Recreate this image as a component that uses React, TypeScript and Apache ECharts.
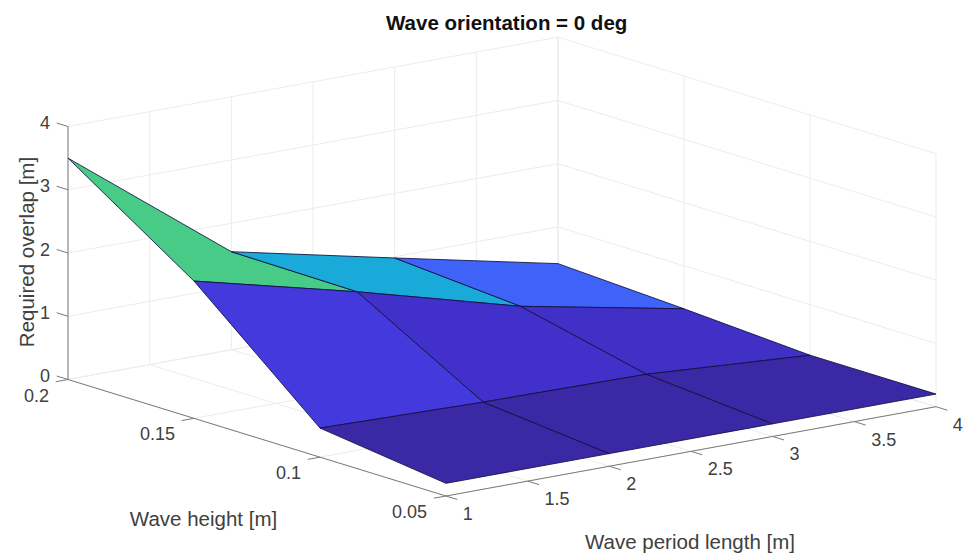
import React, { useEffect, useRef } from "react";
import * as echarts from "echarts";

const WIDTH = 965;
const HEIGHT = 553;
const FONT = "'Liberation Sans', Arial, sans-serif";

// Surface data: rows run from the back (0.2 m) to the front (0.05 m)
const periods = [1, 2, 3, 4];
const heights = [0.2, 0.15, 0.1, 0.05];
const overlap = [
  [3.5, 1.55, 0.98, 0.42],
  [2.17, 1.53, 0.83, 0.32],
  [0.46, 0.4, 0.37, 0.2],
  [0.2, 0.2, 0.2, 0.2],
];

// Tick values and labels
const xTicks = [1, 1.5, 2, 2.5, 3, 3.5, 4];
const xTickLabels = ["1", "1.5", "2", "2.5", "3", "3.5", "4"];
const yTicks = [0.2, 0.15, 0.1, 0.05];
const yTickLabels = ["0.2", "0.15", "0.1", "0.05"];
const zTicks = [0, 1, 2, 3, 4];
const zTickLabels = ["0", "1", "2", "3", "4"];

// Colour map: overlap value -> colour
const colourStops: [number, string][] = [
  [0.2, "#3B28A4"],
  [0.37, "#4030C6"],
  [0.4, "#4131CA"],
  [0.46, "#4439DC"],
  [0.83, "#3F63F9"],
  [1.53, "#19AAD9"],
  [2.17, "#47CB86"],
];

// Orthographic projection of the box
const X_RANGE = [1, 4];
const Y_RANGE = [0.2, 0.05];
const Z_RANGE = [0, 4];
const ORIGIN = [68, 379.5];
const U_VEC = [490, -89.3];
const V_VEC = [378, 116.5];
const W_VEC = [0, -253];

function project(x: number, y: number, z: number): [number, number] {
  const u = (x - X_RANGE[0]) / (X_RANGE[1] - X_RANGE[0]);
  const v = (y - Y_RANGE[0]) / (Y_RANGE[1] - Y_RANGE[0]);
  const w = (z - Z_RANGE[0]) / (Z_RANGE[1] - Z_RANGE[0]);
  return [
    ORIGIN[0] + u * U_VEC[0] + v * V_VEC[0] + w * W_VEC[0],
    ORIGIN[1] + u * U_VEC[1] + v * V_VEC[1] + w * W_VEC[1] + 0,
  ];
}

function hexToRgb(h: string) {
  return [1, 3, 5].map((i) => parseInt(h.slice(i, i + 2), 16));
}

function colourFor(z: number) {
  for (let i = 0; i < colourStops.length - 1; i++) {
    const [a, ca] = colourStops[i];
    const [b, cb] = colourStops[i + 1];
    if (z <= b) {
      const t = Math.max(0, (z - a) / (b - a));
      const A = hexToRgb(ca);
      const B = hexToRgb(cb);
      return `rgb(${A.map((c, k) => Math.round(c + (B[k] - c) * t)).join(",")})`;
    }
  }
  return colourStops[colourStops.length - 1][1];
}

type P3 = [number, number, number];
const [xMin, xMax] = X_RANGE;
const [yBack, yFront] = Y_RANGE;
const [zMin, zMax] = Z_RANGE;

const gridLines: [P3, P3][] = [
  ...xTicks.flatMap((x): [P3, P3][] => [
    [[x, yBack, zMin], [x, yBack, zMax]],
    [[x, yBack, zMin], [x, yFront, zMin]],
  ]),
  ...yTicks.flatMap((y): [P3, P3][] => [
    [[xMax, y, zMin], [xMax, y, zMax]],
    [[xMin, y, zMin], [xMax, y, zMin]],
  ]),
  ...zTicks.flatMap((z): [P3, P3][] => [
    [[xMin, yBack, z], [xMax, yBack, z]],
    [[xMax, yBack, z], [xMax, yFront, z]],
  ]),
];

const axisLines: [P3, P3][] = [
  [[xMin, yBack, zMin], [xMin, yBack, zMax]],
  [[xMin, yBack, zMin], [xMin, yFront, zMin]],
  [[xMin, yFront, zMin], [xMax, yFront, zMin]],
  ...zTicks.map((z): [P3, P3] => [[xMin, yBack, z], [xMin, yBack + 0.0045, z]]),
  ...yTicks.map((y): [P3, P3] => [[xMin, y, zMin], [xMin - 0.075, y, zMin]]),
  ...xTicks.map((x): [P3, P3] => [[x, yFront, zMin], [x, yFront - 0.0045, zMin]]),
];

const surfaceCells: number[][] = [];
for (let r = 0; r < heights.length - 1; r++) {
  for (let c = 0; c < periods.length - 1; c++) surfaceCells.push([c, r]);
}

const tickTexts = [
  ...zTicks.map((z, i) => {
    const p = project(xMin, yBack, z);
    return { text: zTickLabels[i], x: p[0] - 18, y: p[1] - 3.5, align: "right" };
  }),
  ...yTicks.map((y, i) => {
    const p = project(xMin, y, zMin);
    return { text: yTickLabels[i], x: p[0] - 19, y: p[1] + 16, align: "right" };
  }),
  ...xTicks.map((x, i) => {
    const p = project(x, yFront, zMin);
    return { text: xTickLabels[i], x: p[0] + 16.8, y: p[1] + 18, align: "left" };
  }),
];

function lineSeries(lines: [P3, P3][], stroke: string, width: number) {
  return {
    type: "custom",
    coordinateSystem: "cartesian2d",
    silent: true,
    clip: false,
    data: lines.map((_, i) => [i, i]),
    encode: { x: 0, y: 1 },
    renderItem: (params: any, api: any) => {
      const [a, b] = lines[params.dataIndex];
      const p1 = api.coord(project(a[0], a[1], a[2]));
      const p2 = api.coord(project(b[0], b[1], b[2]));
      return {
        type: "line",
        shape: { x1: p1[0], y1: p1[1], x2: p2[0], y2: p2[1] },
        style: { stroke, lineWidth: width, fill: "none" },
      };
    },
  };
}

export default function App() {
  const ref = useRef<HTMLDivElement>(null);
  useEffect(() => {
    document.body.style.margin = "0";
    const chart = echarts.init(ref.current!, undefined, { renderer: "svg" });
    chart.setOption({
      animation: false,
      backgroundColor: "#ffffff",
      title: {
        text: "Wave orientation = 0 deg",
        left: 381,
        top: 7,
        textStyle: { fontFamily: FONT, fontSize: 20.5, fontWeight: "bold", color: "#111111" },
      },
      grid: { left: 0, right: 0, top: 0, bottom: 0 },
      xAxis: { type: "value", min: 0, max: WIDTH, show: false },
      yAxis: { type: "value", min: 0, max: HEIGHT, inverse: true, show: false },
      series: [
        lineSeries(gridLines, "#ECECEC", 1),
        lineSeries(axisLines, "#7A7A7A", 1),
        {
          type: "custom",
          coordinateSystem: "cartesian2d",
          silent: true,
          clip: false,
          data: surfaceCells,
          encode: { x: 0, y: 1 },
          renderItem: (_params: any, api: any) => {
            const c = api.value(0);
            const r = api.value(1);
            const node = (ci: number, ri: number) =>
              api.coord(project(periods[ci], heights[ri], overlap[ri][ci]));
            return {
              type: "polygon",
              shape: { points: [node(c, r), node(c + 1, r), node(c + 1, r + 1), node(c, r + 1)] },
              style: {
                fill: colourFor(overlap[r + 1][c]),
                stroke: "rgba(15,15,60,0.85)",
                lineWidth: 1,
                lineJoin: "round",
              },
            };
          },
        },
        {
          type: "custom",
          coordinateSystem: "cartesian2d",
          silent: true,
          clip: false,
          data: tickTexts.map((_, i) => [i, i]),
          encode: { x: 0, y: 1 },
          renderItem: (params: any, api: any) => {
            const t = tickTexts[params.dataIndex];
            const p = api.coord([t.x, t.y]);
            return {
              type: "text",
              style: {
                text: t.text,
                x: p[0],
                y: p[1],
                align: t.align,
                verticalAlign: "middle",
                fontFamily: FONT,
                fontSize: 18,
                fill: "#404040",
              },
            };
          },
        },
      ],
      graphic: [
        {
          type: "text",
          x: 203.5,
          y: 518,
          style: {
            text: "Wave height [m]",
            align: "center",
            verticalAlign: "middle",
            fontFamily: FONT,
            fontSize: 20.5,
            fill: "#404040",
          },
        },
        {
          type: "text",
          x: 690,
          y: 541,
          style: {
            text: "Wave period length [m]",
            align: "center",
            verticalAlign: "middle",
            fontFamily: FONT,
            fontSize: 20.5,
            fill: "#404040",
          },
        },
        {
          type: "text",
          x: 26,
          y: 252,
          rotation: Math.PI / 2,
          style: {
            text: "Required overlap [m]",
            align: "center",
            verticalAlign: "middle",
            fontFamily: FONT,
            fontSize: 20.5,
            fill: "#404040",
          },
        },
      ],
    });
    return () => chart.dispose();
  }, []);
  return <div ref={ref} style={{ width: WIDTH, height: HEIGHT, position: "absolute", left: 0, top: 0 }} />;
}
